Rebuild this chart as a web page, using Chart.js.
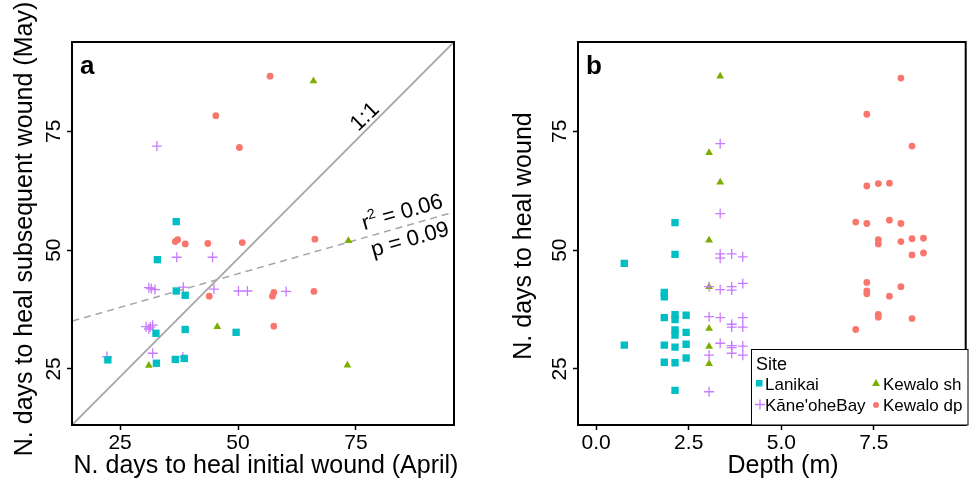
<!DOCTYPE html>
<html>
<head>
<meta charset="utf-8">
<script src="https://cdn.jsdelivr.net/npm/chart.js@4"></script>
<style>
body { margin: 0; background: #fff; }
#wrap { position: relative; width: 972px; height: 486px; }
.panel { position: absolute; top: 0; width: 486px; height: 486px; }
</style>
</head>
<body>
<div id="wrap">
	<div class="panel" style="left:0"><canvas id="chartA" width="486" height="486"></canvas></div>
	<div class="panel" style="left:486px"><canvas id="chartB" width="486" height="486"></canvas></div>
</div>
<script>
// panel a : days to heal initial wound (April) vs subsequent wound (May)
var lanA_x = [36.9, 32.9, 36.9, 38.8, 32.6, 38.8, 49.6, 22.4, 38.6, 36.7, 32.7];
var lanA_y = [56.0, 48.0, 41.4, 40.5, 32.5, 33.3, 32.7, 26.9, 27.2, 27.0, 26.2];
var kanA_x = [32.8, 37.0, 44.6, 31.1, 31.6, 32.4, 38.4, 44.9, 50.1, 52.0, 60.2, 30.5, 31.4, 31.9, 31.1, 22.2, 31.9, 38.3];
var kanA_y = [71.9, 48.5, 48.5, 42.1, 41.9, 41.7, 42.2, 41.8, 41.4, 41.4, 41.3, 33.9, 33.8, 34.2, 33.4, 27.6, 28.3, 27.5];
var kshA_x = [66.0, 73.4, 45.6, 73.2, 31.1];
var kshA_y = [85.6, 52.0, 33.9, 25.8, 25.7];
var kdpA_x = [45.3, 50.3, 56.8, 36.7, 37.2, 38.8, 43.6, 50.9, 66.3, 57.6, 57.3, 66.1, 57.6, 43.9];
var kdpA_y = [78.3, 71.6, 86.6, 51.8, 52.2, 51.3, 51.4, 51.6, 52.3, 41.1, 40.3, 41.3, 34.0, 40.3];

// 1:1 reference and fitted line (end points)
var oneX = [14.8, 95.8];
var oneY = [13.2, 93.8];
var fitX = [10, 100];
var fitY = [33.7, 59.2];

// panel b : depth vs days to heal
var lanB_x = [2.13, 2.13, 0.76, 1.84, 1.84, 1.84, 2.13, 2.13, 2.43, 2.13, 2.13, 2.43, 0.76, 1.84, 2.13, 2.43, 1.84, 2.13, 2.43, 2.13];
var lanB_y = [55.8, 49.1, 47.2, 41.1, 40.2, 35.8, 36.4, 35.4, 36.3, 33.2, 32.1, 32.7, 30.0, 30.0, 29.6, 30.2, 26.4, 26.3, 27.3, 20.5];
var kanB_x = [3.35, 3.35, 3.35, 3.35, 3.66, 3.96, 3.05, 3.35, 3.66, 3.66, 3.96, 3.05, 3.35, 3.66, 3.66, 3.96, 3.96, 3.35, 3.66, 3.66, 3.96, 3.66, 3.96, 3.05, 3.05];
var kanB_y = [72.4, 57.7, 49.2, 48.3, 49.2, 48.6, 42.3, 41.7, 42.3, 41.6, 43.0, 36.0, 35.8, 34.4, 33.8, 35.8, 33.8, 30.4, 29.9, 29.5, 29.8, 28.3, 27.9, 27.9, 20.2];
var kshB_x = [3.35, 3.05, 3.35, 3.05, 3.05, 3.05, 3.05, 3.05];
var kshB_y = [86.6, 70.5, 64.3, 52.1, 42.3, 33.5, 29.7, 26.1];
var kdpB_x = [8.23, 7.31, 8.53, 7.31, 7.62, 7.92, 7.01, 7.31, 7.92, 8.23, 7.62, 7.62, 8.23, 8.53, 8.84, 8.53, 8.84, 7.31, 7.31, 7.31, 8.23, 7.92, 7.62, 7.62, 8.53, 7.01];
var kdpB_y = [86.2, 78.6, 71.9, 63.5, 64.0, 64.1, 55.9, 55.6, 56.3, 55.6, 52.2, 51.3, 51.8, 52.4, 52.5, 49.0, 49.4, 43.2, 41.4, 40.8, 42.3, 40.3, 36.5, 35.9, 35.6, 33.3];

var xTicksA = [25, 50, 75];
var yTicks = [25, 50, 75];
var xTicksB = [0, 2.5, 5, 7.5];
var siteNames = ['Lanikai', 'K\u0101ne\'oheBay', 'Kewalo sh', 'Kewalo dp'];

var FONT = '"Liberation Sans", Arial, sans-serif';
var colLan = '#00BFC4', colKan = '#C77CFF', colKsh = '#7CAE00', colKdp = '#F8766D';

Chart.defaults.font.family = FONT;
Chart.defaults.color = '#000';

function pts(xs, ys) {
	return xs.map(function (x, i) { return { x: x, y: ys[i] }; });
}

function site(name, xs, ys, col, style, r) {
	return {
		type: 'scatter', label: name, data: pts(xs, ys),
		pointStyle: style, pointRadius: r, pointHoverRadius: r,
		backgroundColor: col, borderColor: col,
		borderWidth: style === 'cross' ? 1.3 : 0, order: 1
	};
}

function text(ctx, str, x, y, rot, font, align, base) {
	ctx.save();
	ctx.translate(x, y);
	ctx.rotate(rot);
	ctx.font = font;
	ctx.fillStyle = '#000';
	ctx.textAlign = align || 'center';
	ctx.textBaseline = base || 'middle';
	ctx.fillText(str, 0, 0);
	ctx.restore();
}

function frame(chart) {
	var ctx = chart.ctx, a = chart.chartArea;
	ctx.save();
	ctx.strokeStyle = '#000';
	ctx.lineWidth = 2;
	ctx.strokeRect(a.left, a.top, a.right - a.left, a.bottom - a.top);
	ctx.restore();
}

function yScale(width) {
	return {
		type: 'linear', min: 13.2, max: 93.8,
		afterBuildTicks: function (s) { s.ticks = yTicks.map(function (v) { return { value: v }; }); },
		ticks: { font: { size: 21 }, color: '#000', minRotation: 90, maxRotation: 90, crossAlign: 'center', padding: 1, autoSkip: false },
		grid: { drawOnChartArea: false, tickLength: 5, tickColor: '#000', tickWidth: 1.5 },
		border: { display: false },
		afterFit: function (s) { s.width = width; }
	};
}

function xScale(min, max, ticks, fmt) {
	return {
		type: 'linear', min: min, max: max,
		afterBuildTicks: function (s) { s.ticks = ticks.map(function (v) { return { value: v }; }); },
		ticks: { font: { size: 21 }, color: '#000', padding: 1, maxRotation: 0, autoSkip: false, callback: fmt },
		grid: { drawOnChartArea: false, tickLength: 5, tickColor: '#000', tickWidth: 1.5 },
		border: { display: false },
		afterFit: function (s) { s.height = 61; }
	};
}

var panelA = {
	id: 'panelA',
	afterDraw: function (chart) {
		var ctx = chart.ctx;
		frame(chart);
		text(ctx, 'a', 80, 74, 0, 'bold 26px ' + FONT, 'left', 'alphabetic');
		text(ctx, 'N. days to heal initial wound (April)', 266, 466, 0, '25px ' + FONT);
		text(ctx, 'N. days to heal subsequent wound (May)', 25, 229, -Math.PI / 2, '25px ' + FONT);
		text(ctx, '1:1', 365, 117, -44 * Math.PI / 180, '22px ' + FONT);

		// r squared with superscript
		ctx.save();
		ctx.translate(402, 211);
		ctx.rotate(-16 * Math.PI / 180);
		ctx.fillStyle = '#000';
		ctx.textBaseline = 'alphabetic';
		ctx.textAlign = 'left';
		ctx.font = '22px ' + FONT;
		var w1 = ctx.measureText('r').width;
		var w3 = ctx.measureText(' = 0.06').width;
		ctx.font = '14px ' + FONT;
		var w2 = ctx.measureText('2').width;
		var x0 = -(w1 + w2 + w3) / 2;
		ctx.font = '22px ' + FONT;
		ctx.fillText('r', x0, 8);
		ctx.fillText(' = 0.06', x0 + w1 + w2, 8);
		ctx.font = '14px ' + FONT;
		ctx.fillText('2', x0 + w1, -1);
		ctx.restore();

		text(ctx, 'p = 0.09', 410, 240, -16 * Math.PI / 180, '22px ' + FONT);
	}
};

var panelB = {
	id: 'panelB',
	afterDraw: function (chart) {
		var ctx = chart.ctx;
		frame(chart);
		text(ctx, 'b', 100, 74, 0, 'bold 26px ' + FONT, 'left', 'alphabetic');
		text(ctx, 'Depth (m)', 297, 466, 0, '25px ' + FONT);
		text(ctx, 'N. days to heal wound', 38, 236, -Math.PI / 2, '25px ' + FONT);

		// legend box
		ctx.save();
		ctx.fillStyle = '#fff';
		ctx.fillRect(265.5, 349.5, 216.5, 75.5);
		ctx.strokeStyle = '#000';
		ctx.lineWidth = 1;
		ctx.strokeRect(265.5, 349.5, 216.5, 75.5);
		ctx.restore();
		text(ctx, 'Site', 270, 370, 0, '18px ' + FONT, 'left', 'alphabetic');

		ctx.save();
		ctx.fillStyle = colLan;
		ctx.fillRect(270, 380, 6.5, 6.5);
		ctx.strokeStyle = colKan;
		ctx.lineWidth = 1.3;
		ctx.beginPath();
		ctx.moveTo(269, 404.5); ctx.lineTo(279, 404.5);
		ctx.moveTo(274, 399.5); ctx.lineTo(274, 409.5);
		ctx.stroke();
		ctx.fillStyle = colKsh;
		ctx.beginPath();
		ctx.moveTo(390, 379); ctx.lineTo(394, 386); ctx.lineTo(386, 386); ctx.closePath();
		ctx.fill();
		ctx.fillStyle = colKdp;
		ctx.beginPath();
		ctx.arc(390, 405, 3, 0, Math.PI * 2);
		ctx.fill();
		ctx.restore();

		text(ctx, siteNames[0], 279, 390, 0, '17px ' + FONT, 'left', 'alphabetic');
		text(ctx, siteNames[1], 279, 411, 0, '17px ' + FONT, 'left', 'alphabetic');
		text(ctx, siteNames[2], 397, 390, 0, '17px ' + FONT, 'left', 'alphabetic');
		text(ctx, siteNames[3], 397, 411, 0, '17px ' + FONT, 'left', 'alphabetic');
	}
};

var baseOpts = {
	responsive: false,
	animation: false,
	events: [],
	plugins: { legend: { display: false }, tooltip: { enabled: false } }
};

new Chart(document.getElementById('chartA').getContext('2d'), {
	type: 'scatter',
	data: {
		datasets: [
			{ type: 'line', data: pts(oneX, oneY), borderColor: '#A6A6A6', borderWidth: 1.8, pointRadius: 0, fill: false, order: 5 },
			{ type: 'line', data: pts(fitX, fitY), borderColor: '#A6A6A6', borderWidth: 1.5, borderDash: [7, 5], pointRadius: 0, fill: false, order: 5 },
			site(siteNames[0], lanA_x, lanA_y, colLan, 'rect', 5.2),
			site(siteNames[1], kanA_x, kanA_y, colKan, 'cross', 5),
			site(siteNames[2], kshA_x, kshA_y, colKsh, 'triangle', 4.5),
			site(siteNames[3], kdpA_x, kdpA_y, colKdp, 'circle', 3.4)
		]
	},
	options: Object.assign({}, baseOpts, {
		layout: { padding: { left: 0, right: 32, top: 42, bottom: 0 } },
		scales: {
			x: xScale(14.8, 95.8, xTicksA),
			y: yScale(72)
		}
	}),
	plugins: [panelA]
});

new Chart(document.getElementById('chartB').getContext('2d'), {
	type: 'scatter',
	data: {
		datasets: [
			site(siteNames[0], lanB_x, lanB_y, colLan, 'rect', 5.2),
			site(siteNames[1], kanB_x, kanB_y, colKan, 'cross', 5),
			site(siteNames[2], kshB_x, kshB_y, colKsh, 'triangle', 4.5),
			site(siteNames[3], kdpB_x, kdpB_y, colKdp, 'circle', 3.4)
		]
	},
	options: Object.assign({}, baseOpts, {
		layout: { padding: { left: 0, right: 4, top: 42, bottom: 0 } },
		scales: {
			x: xScale(-0.49, 9.98, xTicksB, function (v) { return v.toFixed(1); }),
			y: yScale(92)
		}
	}),
	plugins: [panelB]
});
</script>
</body>
</html>
